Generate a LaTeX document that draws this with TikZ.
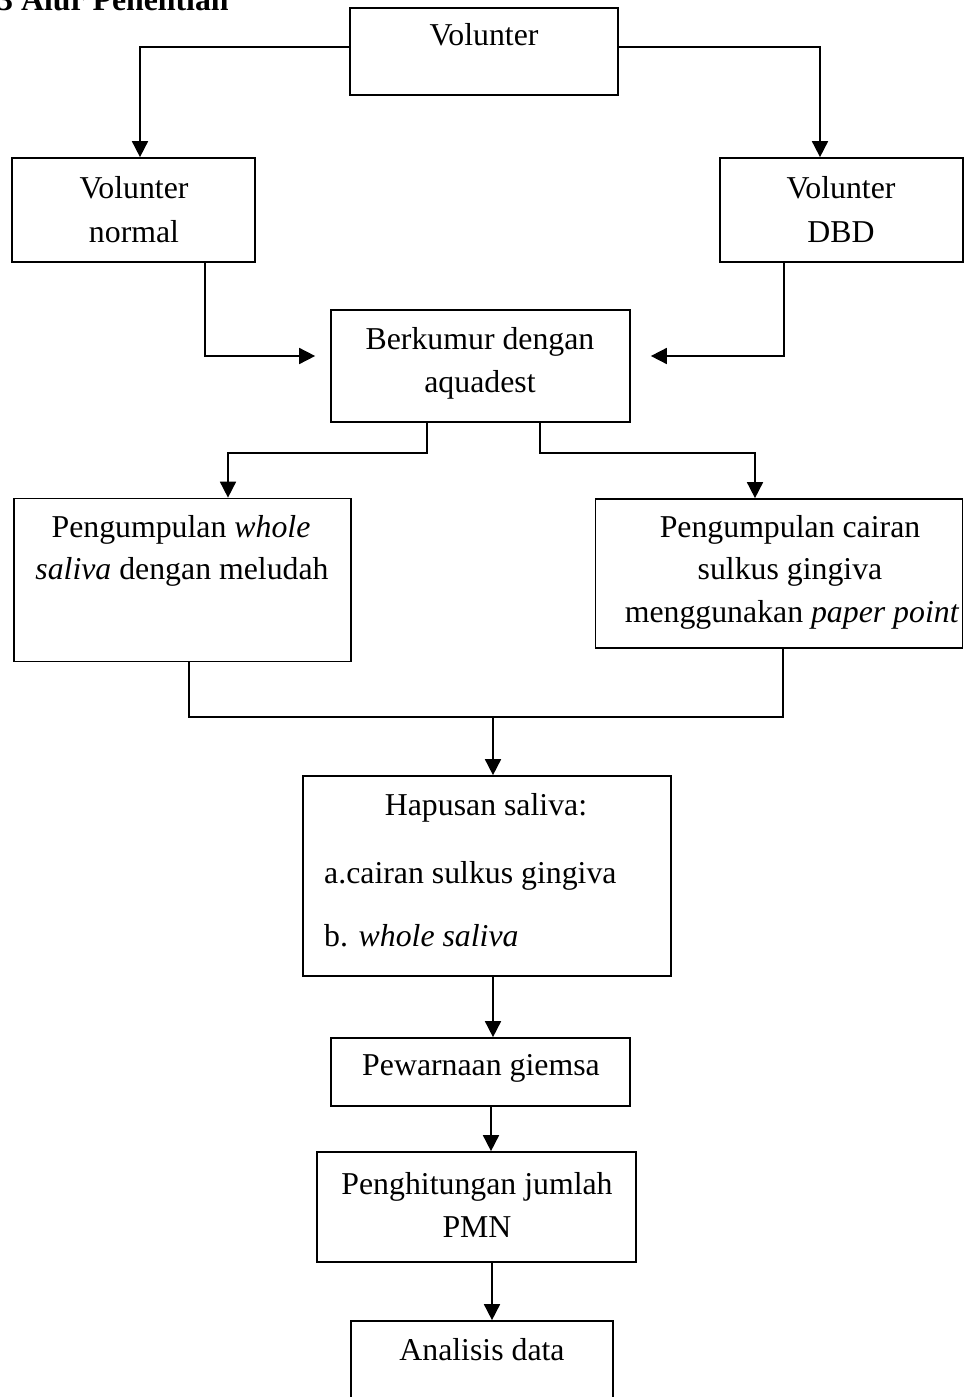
\documentclass[tikz,border=0pt]{standalone}
\usepackage{fontspec}
\setmainfont{Liberation Serif}
\usetikzlibrary{arrows.meta,calc}
\begin{document}
\begin{tikzpicture}[x=1pt,y=-1pt,
  box/.style={draw,line width=1.7pt,inner sep=0pt,minimum width=#1},
  txt/.style={inner sep=0pt,anchor=base,font=\fontsize{31.8}{43}\selectfont},
  ltxt/.style={inner sep=0pt,anchor=base west,font=\fontsize{31.8}{43}\selectfont},
  conn/.style={line width=1.7pt},
  arr/.style={line width=1.7pt,-{Triangle[length=16pt,width=16pt]}}]
\useasboundingbox (0,0) rectangle (976,1397);
% title (cut by the page edge, as in the reference)
\node[inner sep=0pt,anchor=base west,font=\fontsize{31.8}{38}\selectfont\bfseries] (title) at (-3,11) {3 Alur Penelitian};
% boxes
\node[box=268,minimum height=87] (v) at (484,51.5) {};
\node[box=243,minimum height=104] (vn) at (133.5,210) {};
\node[box=243,minimum height=104] (vd) at (841.5,210) {};
\node[box=299,minimum height=112] (bk) at (480.5,366) {};
\node[box=337,minimum height=163] (pw) at (182.5,580) {};
\node[box=367,minimum height=149] (pc) at (779,573.5) {};
\node[box=368,minimum height=200] (hs) at (487,876) {};
\node[box=299,minimum height=68] (pg) at (480.5,1072) {};
\node[box=319,minimum height=110] (ph) at (476.5,1207) {};
\node[box=262,minimum height=100] (ad) at (482,1371) {};
% texts
\node[txt] (t1) at (484,46) {Volunter};
\node[txt] (t2) at (134,198) {Volunter};
\node[txt] (t3) at (134,242) {normal};
\node[txt] (t4) at (841,198) {Volunter};
\node[txt] (t5) at (841,242) {DBD};
\node[txt] (t6) at (480,349) {Berkumur dengan};
\node[txt] (t7) at (480,392) {aquadest};
\node[txt] (t8) at (181,537) {Pengumpulan \textit{whole}};
\node[txt] (t9) at (182,579) {\textit{saliva} dengan meludah};
\node[txt] (t10) at (790,537) {Pengumpulan cairan};
\node[txt] (t11) at (790,579) {sulkus gingiva};
\node[txt] (t12) at (792,622) {menggunakan \textit{paper point}};
\node[txt] (t13) at (486,815) {Hapusan saliva:};
\node[ltxt] (t14) at (324,883) {a.cairan sulkus gingiva};
\node[ltxt] (t15) at (324,946) {b. \textit{whole saliva}};
\node[txt] (t16) at (481,1075) {Pewarnaan giemsa};
\node[txt] (t17) at (477,1194) {Penghitungan jumlah};
\node[txt] (t18) at (477,1237) {PMN};
\node[txt] (t19) at (482,1360) {Analisis data};
% connectors
\coordinate (jl) at (205,356);
\coordinate (jr) at (784,356);
\coordinate (jm) at (493,717);
\draw[arr] (v.west |- 0,47) -| (vn.north -| 140,0);
\draw[arr] (v.east |- 0,47) -| (vd.north -| 820,0);
\draw[arr] (vn.south -| 205,0) |- ([xshift=-15pt]bk.west |- jl);
\draw[arr] (vd.south -| 784,0) |- ([xshift=20pt]bk.east |- jr);
\draw[arr] (bk.south -| 427,0) |- (228,453) -- (pw.north -| 228,0);
\draw[arr] (bk.south -| 540,0) |- (755,453) -- (pc.north -| 755,0);
\draw[conn] (pw.south -| 189,0) |- (jm) -| (pc.south -| 783,0);
\draw[arr] (jm) -- (hs.north -| jm);
\draw[arr] (hs.south -| 493,0) -- (pg.north -| 493,0);
\draw[arr] (pg.south -| 491,0) -- (ph.north -| 491,0);
\draw[arr] (ph.south -| 492,0) -- (ad.north -| 492,0);
\end{tikzpicture}
\end{document}
